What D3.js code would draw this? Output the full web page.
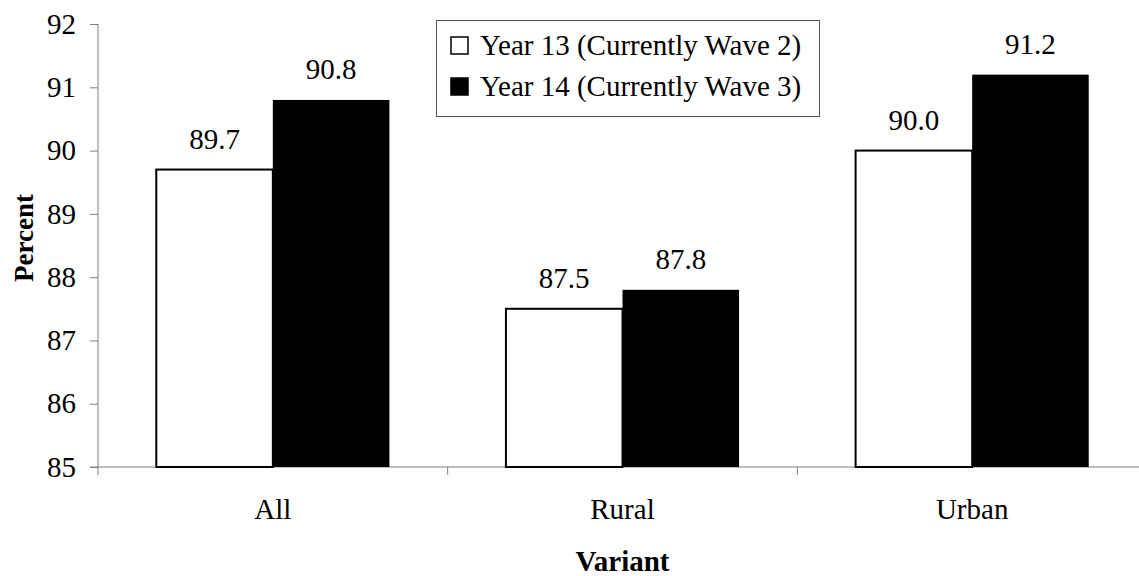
<!DOCTYPE html>
<html>
<head>
<meta charset="utf-8">
<script src="https://cdn.jsdelivr.net/npm/d3@7"></script>
<style>
  html, body { margin: 0; padding: 0; background: #fff; }
  svg { display: block; }
  text { font-family: "Liberation Serif", "Times New Roman", serif; fill: #000; }
</style>
</head>
<body>
<svg id="chart" width="1139" height="576"></svg>
<script>
// Response rates by variant, two survey years
const categories = ["All", "Rural", "Urban"];
const seriesNames = ["Year 13 (Currently Wave 2)", "Year 14 (Currently Wave 3)"];
const year13 = [89.7, 87.5, 90.0];
const year14 = [90.8, 87.8, 91.2];
const yTicks = [85, 86, 87, 88, 89, 90, 91, 92];
const seriesFill = ["#ffffff", "#000000"];

const svg = d3.select("#chart");
const plotLeft = 98, plotRight = 1147, plotTop = 24, plotBottom = 467;
const fontSize = 29;

const x = d3.scaleBand().domain(categories).range([plotLeft, plotRight]).padding(0);
const xs = d3.scaleBand().domain(seriesNames).range([0, x.bandwidth()])
  .paddingInner(0).paddingOuter(0.5);
const y = d3.scaleLinear().domain([85, 92]).range([plotBottom, plotTop]);

const axisColor = "#808080";

// Y axis
const yAxis = svg.append("g")
  .attr("transform", `translate(${plotLeft},0)`)
  .call(d3.axisLeft(y).tickValues(yTicks).tickSize(8).tickPadding(14).tickFormat(d3.format("d")));
yAxis.select(".domain").attr("stroke", axisColor).attr("d", `M0,${plotTop}V${plotBottom + 8}`);
yAxis.selectAll(".tick line").attr("stroke", axisColor);
yAxis.selectAll(".tick text")
  .style("font-family", '"Liberation Serif", "Times New Roman", serif')
  .style("font-size", fontSize + "px").attr("fill", "#000");

// X axis line and category boundary ticks
svg.append("line")
  .attr("x1", plotLeft - 8).attr("x2", plotRight)
  .attr("y1", plotBottom).attr("y2", plotBottom)
  .attr("stroke", axisColor);
svg.append("g").selectAll("line")
  .data(categories.slice(1).map(c => x(c)))
  .join("line")
  .attr("x1", d => d).attr("x2", d => d)
  .attr("y1", plotBottom).attr("y2", plotBottom + 8)
  .attr("stroke", axisColor);

// Category labels
svg.append("g").selectAll("text")
  .data(categories)
  .join("text")
  .attr("x", d => x(d) + x.bandwidth() / 2)
  .attr("y", 519)
  .attr("text-anchor", "middle")
  .style("font-size", fontSize + "px")
  .text(d => d);

// Bars
const rows = categories.map((c, i) => ({
  cat: c,
  vals: [
    { s: seriesNames[0], v: year13[i], k: 0 },
    { s: seriesNames[1], v: year14[i], k: 1 }
  ]
}));

const groups = svg.append("g").selectAll("g")
  .data(rows)
  .join("g")
  .attr("transform", d => `translate(${x(d.cat)},0)`);

groups.selectAll("rect")
  .data(d => d.vals)
  .join("rect")
  .attr("x", d => xs(d.s))
  .attr("y", d => y(d.v))
  .attr("width", xs.bandwidth())
  .attr("height", d => y(85) - y(d.v))
  .attr("fill", d => seriesFill[d.k])
  .attr("stroke", "#000")
  .attr("stroke-width", d => d.k === 0 ? 2 : 0);

groups.selectAll("text")
  .data(d => d.vals)
  .join("text")
  .attr("x", d => xs(d.s) + xs.bandwidth() / 2)
  .attr("y", d => y(d.v) - 21)
  .attr("text-anchor", "middle")
  .style("font-size", fontSize + "px")
  .text(d => d.v.toFixed(1));

// Axis titles
svg.append("text")
  .attr("transform", `translate(33,238) rotate(-90)`)
  .attr("text-anchor", "middle")
  .style("font-size", "27px")
  .style("font-weight", "bold")
  .text("Percent");

svg.append("text")
  .attr("x", x("Rural") + x.bandwidth() / 2)
  .attr("y", 571)
  .attr("text-anchor", "middle")
  .style("font-size", fontSize + "px")
  .style("font-weight", "bold")
  .text("Variant");

// Legend
const legend = svg.append("g");
legend.append("rect")
  .attr("x", 436.5).attr("y", 20.5)
  .attr("width", 383).attr("height", 96)
  .attr("fill", "#fff").attr("stroke", "#555").attr("stroke-width", 1);

const items = legend.selectAll("g.item")
  .data(seriesNames)
  .join("g")
  .attr("class", "item")
  .attr("transform", (d, i) => `translate(0,${i * 41})`);

items.append("rect")
  .attr("x", 451).attr("y", 37)
  .attr("width", 17).attr("height", 17)
  .attr("fill", (d, i) => seriesFill[i])
  .attr("stroke", "#000").attr("stroke-width", 1.5);

items.append("text")
  .attr("x", 480).attr("y", 55)
  .style("font-size", fontSize + "px")
  .text(d => d);
</script>
</body>
</html>
